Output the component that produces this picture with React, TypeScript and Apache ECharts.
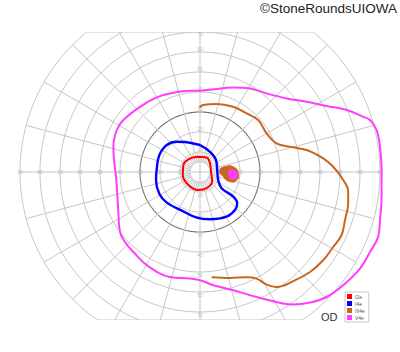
import React, { useEffect, useRef } from "react";
import * as echarts from "echarts";

// ---- text ----
const TITLE = "©StoneRoundsUIOWA";
const EYE = "OD";
const SERIES_NAMES = ["I2e", "I4e", "III4e", "V4e"];
const SERIES_COLORS = ["#ff0000", "#0000ff", "#c8661e", "#ff3dff"];

// ---- grid geometry (degrees of eccentricity) ----
const RINGS = [5, 10, 20, 30, 40, 50, 60, 70, 80, 90];
const MERIDIANS = [0, 15, 30, 45, 60, 75, 90, 105, 120, 135, 150, 165, 180, 195, 210, 225, 240, 255, 270, 285, 300, 315, 330, 345];
const H_TICKS = [10, 20, 30, 40, 50, 60, 70, 80, 90];
const V_TICKS = [10, 20, 30, 40, 50, 60, 70];

// ---- isopters: [horizontal deg, vertical deg] ----
const I2E = [
  [-1.6, 7.6], [3.3, 7.3], [5, 4.3], [5.5, 0.1], [6.1, -4.8], [3.3, -8.1], [-0.8, -9],
  [-5.8, -6.5], [-8.6, -1.5], [-8.3, 3.5], [-5.8, 6.3], [-1.6, 7.6],
];
const I4E = [
  [0, 13.5], [5, 10.1], [8, 6], [8.6, 1], [9.1, -4], [10.8, -8.1], [16.6, -12.3],
  [18.6, -15.6], [17.5, -19], [13.3, -22.3], [5, -23.6], [-1.6, -22.8], [-9.1, -19.3],
  [-16.6, -15.3], [-20.3, -11], [-22, -4], [-21.6, 1.8], [-20.3, 8.5], [-16.6, 13.5],
  [-11.6, 15.1], [-7.5, 15], [-5, 14.6], [0, 13.5],
];
const III4E = [
  [-0.3, 32.3], [1.6, 33.5], [8.3, 34], [16.6, 32.6], [23.3, 29.3], [29.1, 26], [33.3, 19.3],
  [38.3, 14.3], [45, 12.6], [53.3, 11], [61.6, 6.8], [66.6, 2.6], [71.6, -4], [74.1, -9.8],
  [74.1, -15.6], [72.5, -24], [70.8, -31.5], [66.6, -37.5], [61.6, -44.1], [55, -50],
  [46.6, -54.6], [38.3, -57.5], [33.3, -56.3], [28.3, -53.3], [23.3, -52.6], [15, -53], [5.8, -52.6],
];
const III4E_SPOT = [
  [10, 1], [12.5, 2.6], [16.6, 2.6], [19.1, -0.6], [18.3, -4], [15, -4.8], [11.6, -2.3],
];
const V4E = [
  [0, 40.6], [6.6, 41.3], [16.6, 42.3], [25, 41.8], [33.3, 39.3], [43.3, 36.8], [53.3, 35.1],
  [63.3, 33], [73.3, 31], [81.6, 27.6], [85, 26], [88.3, 21], [90, 12.6], [90.8, 1],
  [90.8, -12.3], [90, -24], [89.1, -32.3], [85, -40], [80, -48.3], [71.6, -56.6], [63.3, -62.5],
  [55, -65.3], [46.6, -66.3], [38.3, -65], [28.3, -62.5], [16.6, -59.1], [6.6, -56.6],
  [1.6, -54.6], [-5, -53.3], [-15, -52.5], [-26.6, -46.6], [-33.3, -40], [-37.5, -35],
  [-40, -30], [-40.8, -20.6], [-41.3, -12.3], [-42, -2.3], [-43, 6], [-43.3, 12.6],
  [-41.6, 21], [-38.3, 26], [-30, 32.6], [-21.6, 37.3], [-13.3, 39.6], [-5, 40.6], [0, 40.6],
];
const V4E_SPOT = [
  [14.5, 0.5], [16.5, 1], [18.5, -0.5], [18.2, -3], [16, -3.5], [14.5, -2],
];

const X_MIN = -92, X_MAX = 92, Y_MIN = -74, Y_MAX = 70;

type GridItem =
  | { kind: "ring"; r: number }
  | { kind: "radial"; a: number; r0: number; r1: number }
  | { kind: "hline"; y: number };

export default function App() {
  const ref = useRef<HTMLDivElement>(null);
  useEffect(() => {
    document.body.style.margin = "0";
    const chart = echarts.init(ref.current!, null, { renderer: "svg" });
    const outer = RINGS[RINGS.length - 1];
    const inner = RINGS[0];
    const items: GridItem[] = [];
    RINGS.forEach((r) => items.push({ kind: "ring", r }));
    MERIDIANS.forEach((a) => items.push({ kind: "radial", a, r0: a % 90 === 0 ? 0 : inner, r1: outer }));
    MERIDIANS.forEach((a) => items.push({ kind: "radial", a: a + 7.5, r0: inner, r1: RINGS[1] }));
    items.push({ kind: "hline", y: Y_MAX });
    items.push({ kind: "hline", y: Y_MIN });

    const gridColor = "#c6c6c6";
    const labelData: any[] = [];
    H_TICKS.forEach((t) => {
      labelData.push({ value: [t, 0], label: { formatter: String(t) } });
      labelData.push({ value: [-t, 0], label: { formatter: String(t) } });
    });
    V_TICKS.forEach((t) => {
      labelData.push({ value: [0, Math.min(t + 1.4, Y_MAX - 1)], label: { formatter: String(t) } });
      labelData.push({ value: [0, -(t + 1.4)], label: { formatter: String(t) } });
    });

    const isopters = [I2E, I4E, III4E, V4E];
    const widths = [2, 2.4, 2, 2];

    chart.setOption({
      animation: false,
      backgroundColor: "#ffffff",
      grid: { left: 16, right: 16, top: 32, bottom: 32 },
      xAxis: { type: "value", min: X_MIN, max: X_MAX, show: false },
      yAxis: { type: "value", min: Y_MIN, max: Y_MAX, show: false },
      legend: {
        data: SERIES_NAMES,
        orient: "vertical",
        left: 345,
        top: 292,
        icon: "rect",
        itemWidth: 5,
        itemHeight: 5,
        itemGap: 2,
        padding: [2, 4, 2, 2],
        borderColor: "#c8c8c8",
        borderWidth: 1,
        backgroundColor: "#ffffff",
        textStyle: { fontSize: 5, color: "#555", fontFamily: "Liberation Sans", padding: [0, 0, 0, -2] },
      },
      graphic: [
        {
          type: "text",
          right: 3,
          top: 1,
          style: { text: TITLE, fontSize: 13.5, fontFamily: "Liberation Sans", fill: "#222" },
        },
        {
          type: "text",
          left: 321,
          top: 311,
          style: { text: EYE, fontSize: 11, fontFamily: "Liberation Sans", fill: "#333" },
        },
      ],
      series: [
        {
          type: "custom",
          name: "grid",
          clip: true,
          silent: true,
          z: 1,
          data: items.map(() => [0, 0]),
          renderItem: (params: any, api: any) => {
            const it = items[params.dataIndex];
            const pts: number[][] = [];
            let stroke = gridColor;
            let lw = 1;
            if (it.kind === "ring") {
              for (let a = 0; a <= 360; a += 2) {
                const rad = (a * Math.PI) / 180;
                pts.push(api.coord([it.r * Math.cos(rad), it.r * Math.sin(rad)]));
              }
              if (it.r === 30) { stroke = "#777777"; lw = 1.1; }
            } else if (it.kind === "radial") {
              const rad = (it.a * Math.PI) / 180;
              pts.push(api.coord([it.r0 * Math.cos(rad), it.r0 * Math.sin(rad)]));
              pts.push(api.coord([it.r1 * Math.cos(rad), it.r1 * Math.sin(rad)]));
            } else {
              const hx = Math.sqrt(Math.max(0, outer * outer - it.y * it.y));
              pts.push(api.coord([-hx, it.y]));
              pts.push(api.coord([hx, it.y]));
            }
            return { type: "polyline", shape: { points: pts }, style: { stroke, lineWidth: lw, fill: null } };
          },
        },
        {
          type: "scatter",
          name: "ticks",
          symbolSize: 0,
          silent: true,
          z: 2,
          data: labelData,
          label: { show: true, position: "inside", fontSize: 5, color: "#aaaaaa", fontFamily: "Liberation Sans" },
        },
        ...isopters.map((d, i) => ({
          type: "line",
          name: SERIES_NAMES[i],
          data: d,
          smooth: 0.4,
          showSymbol: false,
          symbol: "none",
          z: 5,
          itemStyle: { color: SERIES_COLORS[i] },
          lineStyle: { color: SERIES_COLORS[i], width: widths[i] },
        })),
        ...[
          { d: III4E_SPOT, c: SERIES_COLORS[2] },
          { d: V4E_SPOT, c: SERIES_COLORS[3] },
        ].map((s, k) => ({
          type: "custom",
          name: "spot" + k,
          z: 6 + k,
          silent: true,
          data: [[0, 0]],
          renderItem: (_p: any, api: any) => ({
            type: "polygon",
            shape: { points: s.d.map((p) => api.coord(p)), smooth: 0.6 },
            style: { fill: s.c, stroke: s.c, lineWidth: 1 },
          }),
        })),
      ],
    });
    return () => chart.dispose();
  }, []);
  return <div ref={ref} style={{ width: 400, height: 352 }} />;
}
